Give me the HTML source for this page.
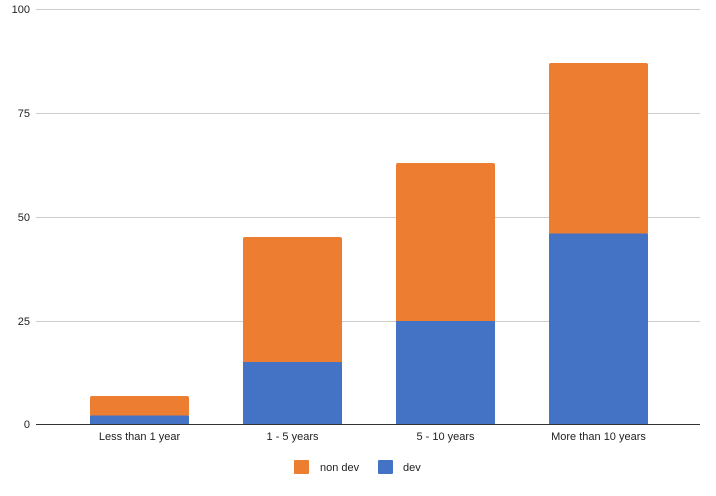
<!DOCTYPE html>
<html><head><style>body{margin:0;background:#fff}</style></head><body>
<svg width="716" height="491" xmlns="http://www.w3.org/2000/svg" font-family="Liberation Sans, sans-serif" font-size="11" fill="#222">
<g stroke="#ccc" stroke-width="1">
<line x1="36" x2="700" y1="9.5" y2="9.5"/>
<line x1="36" x2="700" y1="113.5" y2="113.5"/>
<line x1="36" x2="700" y1="217.5" y2="217.5"/>
<line x1="36" x2="700" y1="321.5" y2="321.5"/>
</g>
<g text-anchor="end">
<text x="30" y="13">100</text><text x="30" y="117">75</text><text x="30" y="221">50</text><text x="30" y="325">25</text><text x="30" y="428">0</text>
</g>
<rect x="90" y="396" width="99" height="20" fill="#ED7D31" rx="2"/>
<rect x="90" y="415.5" width="99" height="8.5" fill="#4472C4"/>
<rect x="243" y="237" width="99" height="126" fill="#ED7D31" rx="2"/>
<rect x="243" y="362" width="99" height="62" fill="#4472C4"/>
<rect x="396" y="163" width="99" height="159" fill="#ED7D31" rx="2"/>
<rect x="396" y="321" width="99" height="103" fill="#4472C4"/>
<rect x="549" y="63" width="99" height="171" fill="#ED7D31" rx="2"/>
<rect x="549" y="233.5" width="99" height="190.5" fill="#4472C4"/>
<line x1="36" x2="700" y1="424.5" y2="424.5" stroke="#333" stroke-width="1"/>
<g text-anchor="middle">
<text x="139.5" y="440">Less than 1 year</text>
<text x="292.5" y="440">1 - 5 years</text>
<text x="445.5" y="440">5 - 10 years</text>
<text x="598.5" y="440">More than 10 years</text>
</g>
<rect x="294" y="460" width="15" height="14" fill="#ED7D31" rx="1"/>
<text x="320" y="471">non dev</text>
<rect x="378" y="460" width="15" height="14" fill="#4472C4" rx="1"/>
<text x="403" y="471">dev</text>
</svg>
</body></html>
